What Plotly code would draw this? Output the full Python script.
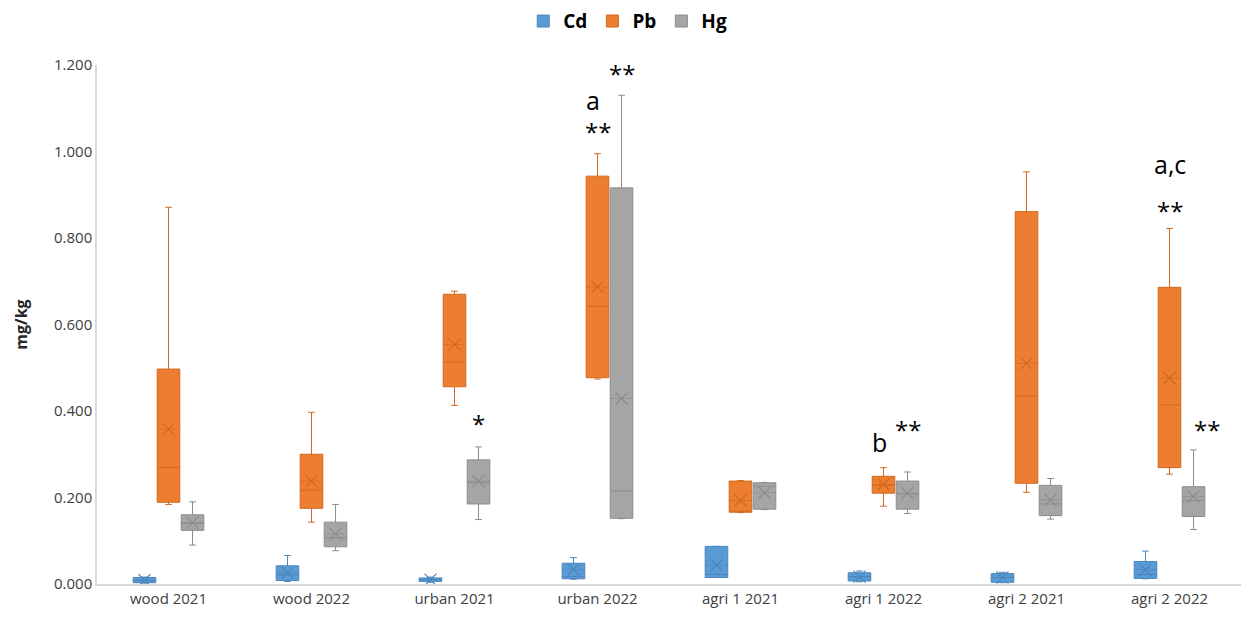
import plotly.graph_objects as go

categories = ["wood 2021", "wood 2022", "urban 2021", "urban 2022",
              "agri 1 2021", "agri 1 2022", "agri 2 2021", "agri 2 2022"]

# Cd
cd_low = [0.002, 0.006, 0.004, 0.011, 0.015, 0.005, 0.003, 0.012]
cd_q1 = [0.003, 0.008, 0.006, 0.012, 0.015, 0.007, 0.004, 0.013]
cd_med = [0.008, 0.021, 0.010, 0.017, 0.022, 0.017, 0.015, 0.022]
cd_q3 = [0.015, 0.042, 0.014, 0.048, 0.087, 0.026, 0.024, 0.052]
cd_high = [0.016, 0.066, 0.016, 0.061, 0.087, 0.030, 0.027, 0.076]
cd_mean = [0.009, 0.026, 0.010, 0.033, 0.044, 0.017, 0.015, 0.033]

# Pb
pb_low = [0.184, 0.143, 0.413, 0.474, 0.165, 0.180, 0.212, 0.254]
pb_q1 = [0.189, 0.175, 0.456, 0.477, 0.166, 0.210, 0.233, 0.269]
pb_med = [0.270, 0.217, 0.513, 0.642, 0.168, 0.228, 0.435, 0.414]
pb_q3 = [0.497, 0.300, 0.670, 0.943, 0.238, 0.249, 0.861, 0.686]
pb_high = [0.871, 0.397, 0.677, 0.995, 0.239, 0.269, 0.953, 0.822]
pb_mean = [0.358, 0.238, 0.554, 0.687, 0.193, 0.230, 0.510, 0.476]

# Hg
hg_low = [0.090, 0.077, 0.149, 0.151, 0.172, 0.163, 0.150, 0.126]
hg_q1 = [0.124, 0.086, 0.185, 0.152, 0.173, 0.173, 0.158, 0.156]
hg_med = [0.140, 0.107, 0.235, 0.215, 0.226, 0.208, 0.185, 0.193]
hg_q3 = [0.160, 0.143, 0.287, 0.916, 0.234, 0.238, 0.228, 0.225]
hg_high = [0.190, 0.184, 0.317, 1.130, 0.235, 0.259, 0.244, 0.310]
hg_mean = [0.142, 0.116, 0.238, 0.429, 0.211, 0.210, 0.194, 0.202]

# significance annotations: (category index, series, y value, text)
ann_cat = [2, 3, 3, 3, 5, 5, 7, 7, 7]
ann_series = ["Hg", "Pb", "Pb", "Hg", "Pb", "Hg", "Pb", "Pb", "Hg"]
ann_y = [0.372, 1.120, 1.046, 1.180, 0.328, 0.358, 0.971, 0.864, 0.358]
ann_text = ["*", "a", "**", "**", "b", "**", "a,c", "**", "**"]

series = [
    ("Cd", cd_low, cd_q1, cd_med, cd_q3, cd_high, cd_mean, "#5B9BD5", "#4A86BE", -0.168),
    ("Pb", pb_low, pb_q1, pb_med, pb_q3, pb_high, pb_mean, "#ED7D31", "#D2691E", 0.0),
    ("Hg", hg_low, hg_q1, hg_med, hg_q3, hg_high, hg_mean, "#A5A5A5", "#8C8C8C", 0.168),
]
offsets = {s[0]: s[9] for s in series}

fig = go.Figure()
for name, lo, q1, med, q3, hi, mean, fill, line, off in series:
    xs = [i + off for i in range(len(categories))]
    fig.add_trace(go.Box(
        name="<b>" + name + "</b>", x=xs, q1=q1, median=med, q3=q3,
        lowerfence=lo, upperfence=hi, mean=mean,
        width=0.158, whiskerwidth=0.3, boxpoints=False,
        fillcolor=fill, line=dict(color=line, width=1),
        legendgroup=name, showlegend=True,
    ))
    fig.add_trace(go.Scatter(
        x=xs, y=mean, mode="markers", showlegend=False, legendgroup=name,
        marker=dict(symbol="x-thin-open", size=12,
                    line=dict(color=line, width=1.2), color=line),
        hoverinfo="skip",
    ))

for c, s, y, t in zip(ann_cat, ann_series, ann_y, ann_text):
    dx = offsets[s]
    if t == "b":
        dx = -0.03
    if c == 7 and s == "Hg":
        dx = 0.26
    if c == 3 and t == "a":
        dx = -0.03
    size = 24 if "*" in t else 25
    fig.add_annotation(x=c + dx, y=y, xref="x", yref="y", text=t,
                       showarrow=False,
                       font=dict(family="Open Sans", size=size, color="#000000"))

fig.update_layout(
    width=1248, height=623,
    margin=dict(l=97, r=7, t=65, b=39),
    paper_bgcolor="white", plot_bgcolor="white",
    font=dict(family="Open Sans", color="#595959"),
    legend=dict(orientation="h", xref="container", x=0.503, xanchor="center",
                yref="container", y=0.966, yanchor="middle",
                font=dict(size=19, color="#000000", family="Open Sans"),
                itemwidth=30, tracegroupgap=0),
    showlegend=True,
)
fig.update_xaxes(
    range=[-0.5, 7.5], tickmode="array", tickvals=list(range(len(categories))),
    ticktext=categories, showgrid=False, zeroline=False,
    showline=True, linecolor="#D9D9D9", linewidth=1.5,
    tickfont=dict(size=15, color="#404040"), ticks="",
)
fig.update_yaxes(
    range=[0, 1.2], dtick=0.2, tick0=0, tickformat=".3f",
    showgrid=False, zeroline=False,
    showline=True, linecolor="#D9D9D9", linewidth=1.5,
    tickfont=dict(size=15, color="#404040"), ticks="",
    title=dict(text="<b>mg/kg</b>", font=dict(size=16, color="#262626"), standoff=22),
)

fig.write_html("out.html")
